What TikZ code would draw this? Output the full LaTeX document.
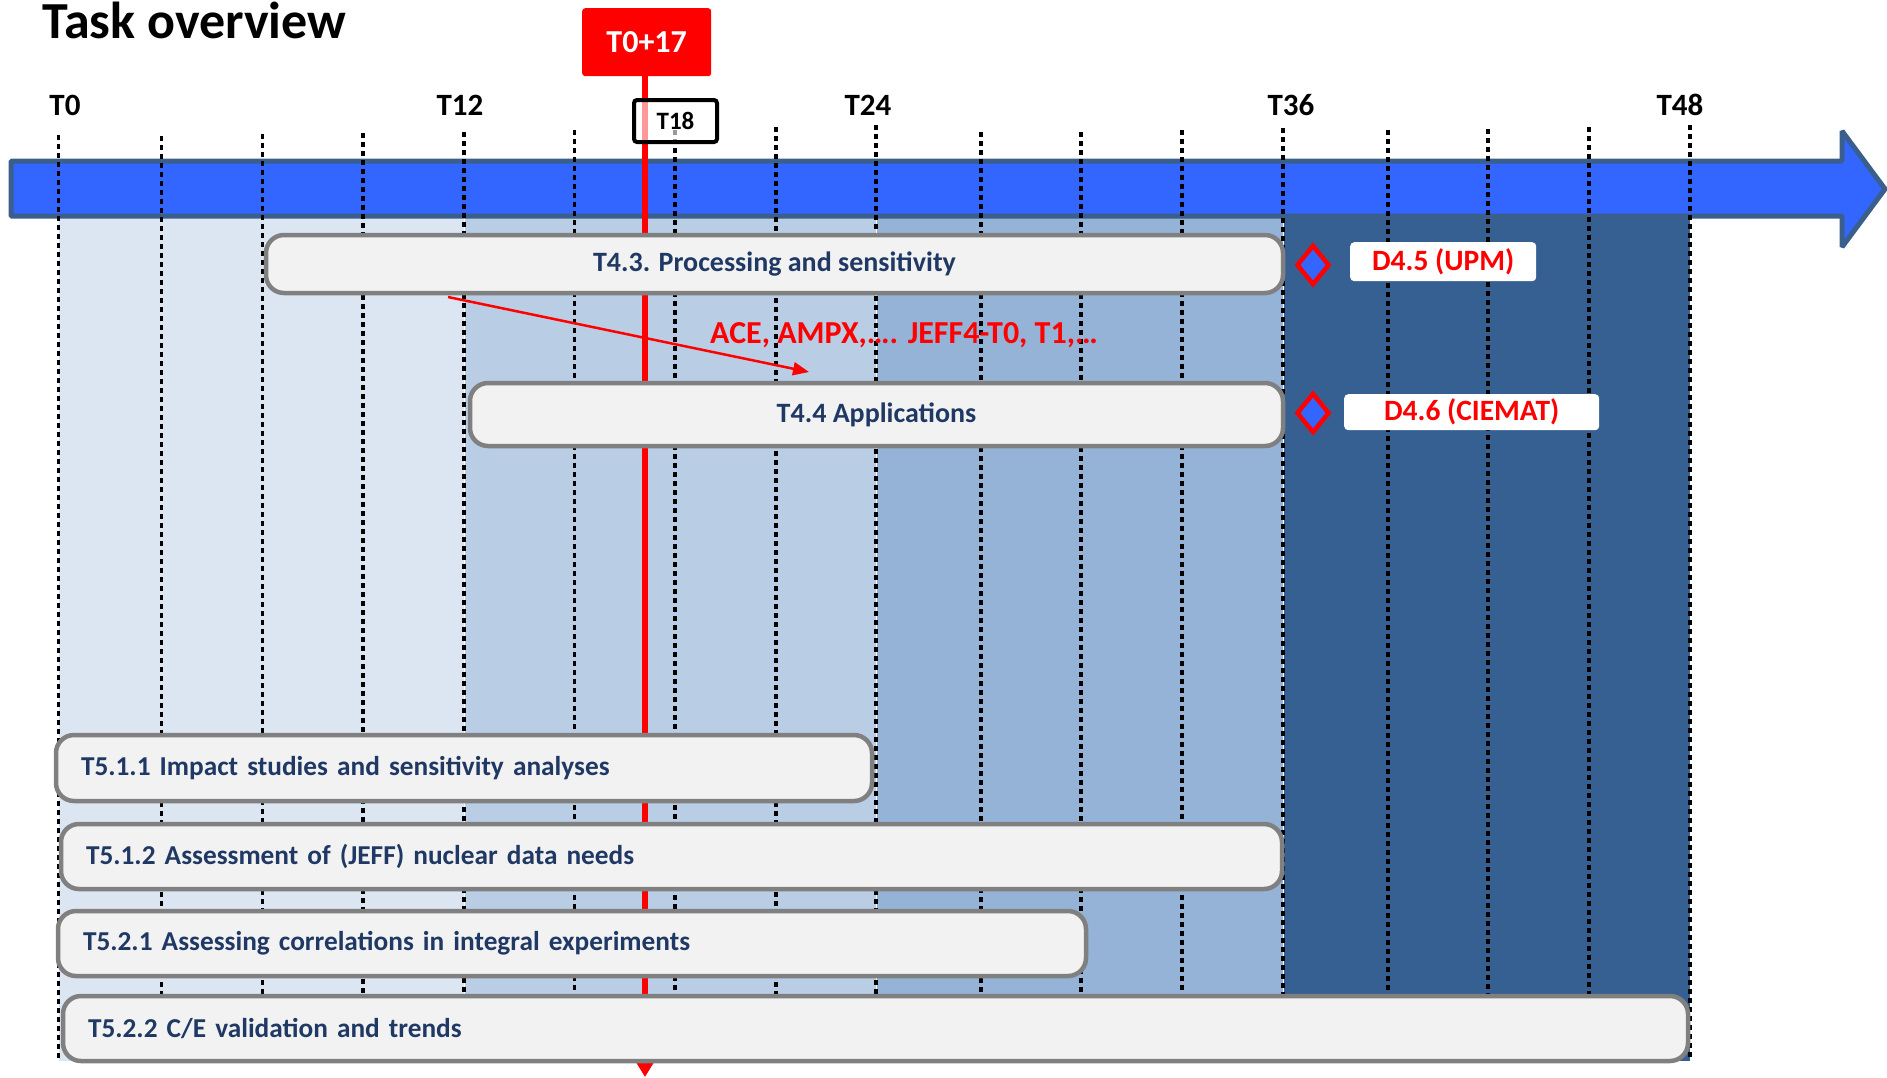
\documentclass[tikz,border=0pt]{standalone}
\usepackage{fontspec}
\setmainfont{Carlito}
\usetikzlibrary{arrows.meta,shapes.geometric}
\definecolor{barblue}{HTML}{3366FF}
\definecolor{barborder}{HTML}{3A5F8C}
\definecolor{regA}{HTML}{DCE6F2}
\definecolor{regB}{HTML}{B9CDE5}
\definecolor{regC}{HTML}{95B3D7}
\definecolor{regD}{HTML}{366092}
\definecolor{taskfill}{HTML}{F2F2F2}
\definecolor{taskborder}{HTML}{808080}
\definecolor{tasktext}{HTML}{1F3864}
\begin{document}
\begin{tikzpicture}[x=1pt,y=-1pt,
  region/.style={draw=white, line width=1pt},
  tick/.style={black, line width=3.2pt, dash pattern=on 5pt off 4pt},
  monthlabel/.style={anchor=base, font=\fontsize{31}{36}\selectfont\bfseries},
  taskbox/.style={draw=taskborder, fill=taskfill, line width=4.5pt, rounded corners=18pt,
    outer sep=0pt, inner sep=0pt, anchor=north west, text=tasktext,
    font=\fontsize{28}{32}\selectfont\bfseries},
  lefttask/.style={taskbox, align=left, inner xsep=25pt, font=\fontsize{27.3}{32}\selectfont\bfseries},
  milestone/.style={diamond, draw=red, fill=barblue, line width=4.5pt, inner sep=0pt,
    minimum width=33pt, minimum height=40pt},
  delivbox/.style={fill=white, rounded corners=4pt, anchor=north west, inner sep=0pt,
    text=red, font=\fontsize{29.5}{34}\selectfont\bfseries},
]
\useasboundingbox (0,0) rectangle (1887,1077);

% background period regions
\path[region, fill=regA] (58.7,190) rectangle (464,1061);
\path[region, fill=regB] (464,190) rectangle (876,1061);
\path[region, fill=regC] (876,190) rectangle (1283,1061);
\path[region, fill=regD] (1283,190) rectangle (1690,1061);

% timeline bar
\filldraw[fill=barblue, draw=barborder, line width=5pt, line join=bevel]
  (11,161) -- (1842,161) -- (1842,131) -- (1885,189) -- (1842,247) -- (1842,216) -- (11,216) -- cycle;

% dotted month lines
\foreach \x/\t in {58.7/135,161.7/136,262.8/134,363/133,464/132,574.5/130,675/130,776/127,
  876/125,981/132,1081/132,1182/130,1283/128,1388/130,1488/129,1589/127,1690/125}
  \draw[tick] (\x,\t) -- (\x,1058);

% month labels
\node[monthlabel] (m0) at (65,115) {T0};
\node[monthlabel] (m12) at (460,115) {T12};
\node[monthlabel] (m24) at (868,115) {T24};
\node[monthlabel] (m36) at (1291,115) {T36};
\node[monthlabel] (m48) at (1680,115) {T48};

% title
\node[anchor=base west, inner sep=0pt, font=\fontsize{52}{60}\selectfont\bfseries] (title) at (42,38) {Task overview};

% current date marker
\node[fill=red, rounded corners=3pt, anchor=north west, minimum width=129pt, minimum height=68pt,
  inner sep=0pt, text=white, font=\fontsize{32}{36}\selectfont\bfseries] (now) at (582,8) {T0+17};
\coordinate (nowend) at (645,1077);
\draw[red, line width=6pt, -{Triangle[length=14pt,width=16pt]}] (now.south -| nowend) -- (nowend);

% T18 box
\node[draw=black, line width=4pt, fill=white, fill opacity=0.6, text opacity=1, rounded corners=3pt,
  minimum width=83pt, minimum height=42pt, inner sep=0pt,
  font=\fontsize{25}{30}\selectfont\bfseries] (t18) at (675.5,121) {T18};

% tasks
\node[taskbox, minimum width=1017pt, minimum height=58pt] (t43) at (266,235) {T4.3. Processing and sensitivity};
\node[taskbox, minimum width=813pt, minimum height=63pt] (t44) at (470,383) {T4.4 Applications};
\node[lefttask, text width=766pt, minimum height=66pt] (t511) at (56,735) {T5.1.1 Impact studies and sensitivity analyses};
\node[lefttask, text width=1171pt, minimum height=65pt] (t512) at (61,824) {T5.1.2 Assessment of (JEFF) nuclear data needs};
\node[lefttask, text width=978pt, minimum height=65pt] (t521) at (58,911) {T5.2.1 Assessing correlations in integral experiments};
\node[lefttask, text width=1575pt, minimum height=65pt] (t522) at (63,996) {T5.2.2 C/E validation and trends};

% data flow arrow
\coordinate (flowS) at (448,297);
\coordinate (flowE) at (809,372);
\draw[red, line width=2.5pt, -{Triangle[length=16pt,width=13pt]}] (flowS) -- (flowE);
\node[text=red, font=\fontsize{32}{36}\selectfont\bfseries, anchor=base] (flowtxt) at (904,343) {ACE, AMPX,…. JEFF4-T0, T1,…};

% milestones
\node[milestone] (ms45) at (1313,265) {};
\node[milestone] (ms46) at (1313,413) {};
\node[delivbox, minimum width=186pt, minimum height=39pt] (d45) at (1350,242) {D4.5 (UPM)};
\node[delivbox, minimum width=255pt, minimum height=36pt] (d46) at (1344,394) {D4.6 (CIEMAT)};
\end{tikzpicture}
\end{document}
